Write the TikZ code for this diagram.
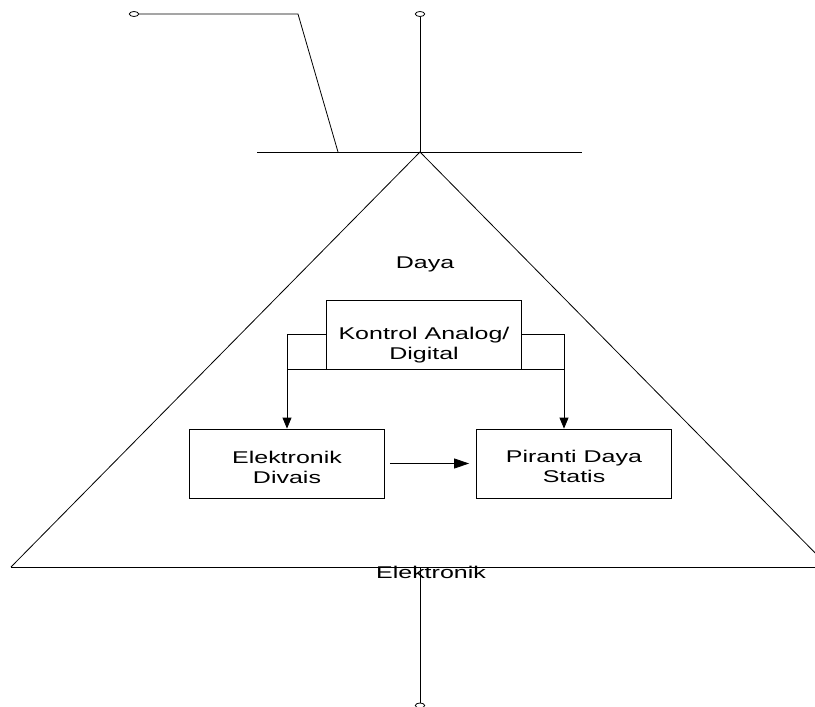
\documentclass[tikz,border=0pt]{standalone}
\usepackage{fontspec}
\setmainfont[FakeStretch=1.47]{Liberation Sans}
\usetikzlibrary{arrows.meta}
\usetikzlibrary{shapes.geometric}

\tikzset{
	box/.style = {draw, rectangle, minimum width = 195pt, minimum height = 69pt, inner sep = 0pt},
	txt/.style = {align = center, font = \fontsize{17}{20}\selectfont, inner sep = 0pt},
	terminal/.style = {draw, ellipse, minimum width = 9.4pt, minimum height = 5pt, inner sep = 0pt},
	wire/.style = {black, line width = 0.8pt},
	down/.style = {-{Triangle[length = 11pt, width = 9pt]}},
	across/.style = {-{Triangle[length = 15pt, width = 10pt]}}
}

\begin{document}
\begin{tikzpicture}[x = 1pt, y = -1pt]
							\useasboundingbox (0, 0) rectangle (815, 707);
							\clip (0, 0) rectangle (815, 707);
							% terminals and wiring on top
							\node [terminal, wire] (inleft) at (134, 14) {};
							\node [terminal, wire] (intop) at (420, 14) {};
							\node [terminal, wire] (outbottom) at (420, 705.5) {};
							\coordinate (bend) at (298, 14);
							\coordinate (tap) at (338, 152);
							\coordinate (apex) at (420, 152);
							\coordinate (busleft) at (257, 152);
							\coordinate (busright) at (582, 152);
							\draw [wire] (inleft) -- (bend) -- (tap);
							\draw [wire] (busleft) -- (busright);
							\draw [wire] (intop) -- (apex);
							% triangle
							\coordinate (cornerleft) at (11, 567);
							\coordinate (cornerright) at (829, 567);
							\coordinate (baseend) at (815, 567);
							\coordinate (basemid) at (420, 567);
							\draw [wire] (cornerleft) -- (apex) -- (cornerright);
							\draw [wire] (cornerleft) -- (baseend);
							\draw [wire] (basemid) -- (outbottom);
							\node [txt, anchor = base] (daya) at (425, 268) {Daya};
							\node [txt, anchor = base] (elektronik) at (431, 578) {Elektronik};
							% blocks
							\node [box, wire] (kontrol) at (424, 334.5) {};
							\node [box, wire] (divais) at (287, 463.5) {};
							\node [box, wire] (piranti) at (574, 463.5) {};
							\node [txt] (kontroltext) at (424, 345.5) {Kontrol Analog/\\Digital};
							\node [txt] (divaistext) at (287, 467.8) {Elektronik\\Divais};
							\node [txt] (pirantitext) at (574, 466.8) {Piranti Daya\\Statis};
							\coordinate (splitleft) at (287, 369);
							\coordinate (splitright) at (564, 369);
							\draw [wire] (kontrol.west) -| (splitleft) -- (splitright) |- (kontrol.east);
							\draw [wire, down] (splitleft) -- (divais.north);
							\draw [wire, down] (splitright) -- (splitright |- piranti.north);
							\draw [wire, across, shorten <= 5pt, shorten >= 7pt] (divais) -- (piranti);
						\end{tikzpicture}
\end{document}
